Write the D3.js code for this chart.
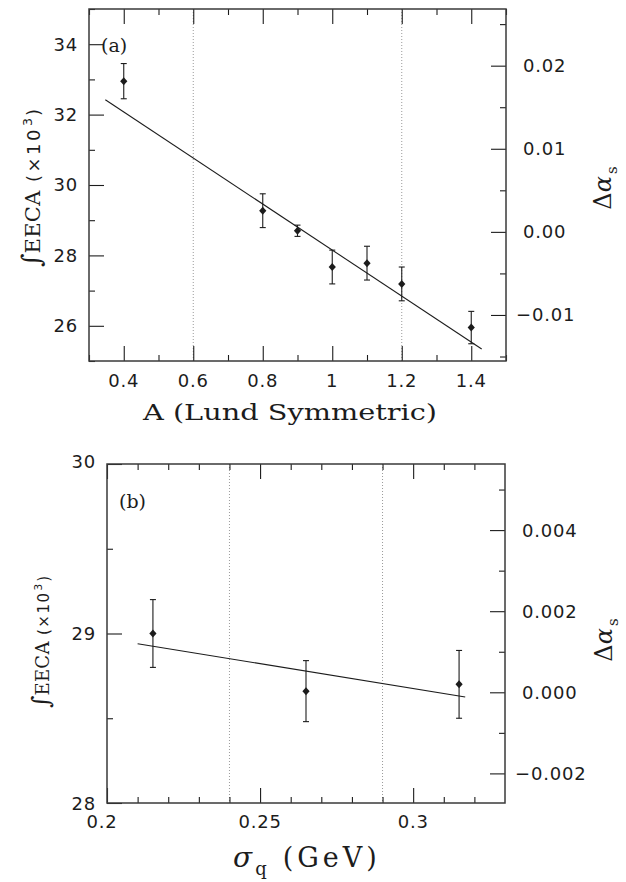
<!DOCTYPE html>
<html>
<head>
<meta charset="utf-8">
<script src="https://cdn.jsdelivr.net/npm/d3@7/dist/d3.min.js"></script>
<style>
body { margin: 0; background: #fff; }
</style>
</head>
<body>
<script>
// ---- panel (a): A (Lund Symmetric)
var aX = [0.4, 0.8, 0.9, 1.0, 1.1, 1.2, 1.4];
var aY = [32.95, 29.27, 28.70, 27.67, 27.78, 27.19, 25.95];
var aErr = [0.50, 0.48, 0.16, 0.48, 0.48, 0.48, 0.46];
var aFitX = [0.347, 1.43];
var aFitY = [32.42, 25.34];
var aXTicks = [0.4, 0.6, 0.8, 1, 1.2, 1.4];
var aXLabels = ["0.4", "0.6", "0.8", "1", "1.2", "1.4"];
var aYTicks = [26, 28, 30, 32, 34];
var aYLabels = ["26", "28", "30", "32", "34"];
var aRTicks = [-0.01, 0, 0.01, 0.02];
var aRLabels = ["\u22120.01", "0.00", "0.01", "0.02"];
var aDotted = [0.6, 1.2];

// ---- panel (b): sigma_q (GeV)
var bX = [0.215, 0.265, 0.315];
var bY = [29.00, 28.66, 28.70];
var bErr = [0.20, 0.18, 0.20];
var bFitX = [0.21, 0.317];
var bFitY = [28.94, 28.625];
var bXTicks = [0.2, 0.25, 0.3];
var bXLabels = ["0.2", "0.25", "0.3"];
var bYTicks = [28, 29, 30];
var bYLabels = ["28", "29", "30"];
var bRTicks = [-0.002, 0, 0.002, 0.004];
var bRLabels = ["\u22120.002", "0.000", "0.002", "0.004"];
var bDotted = [0.24, 0.29];

var width = 626, height = 882;
var ink = "#1c1c1c";
var sans = "'DejaVu Sans', sans-serif";
var serif = "'DejaVu Serif', serif";

var svg = d3.select("body").append("svg")
    .attr("width", width)
    .attr("height", height);

function panel(p) {
  var x = d3.scaleLinear().domain(p.xDomain).range([p.left, p.right]);
  var y = d3.scaleLinear().domain(p.yDomain).range([p.bottom, p.top]);
  var r = d3.scaleLinear().domain(p.rDomain).range([p.bottom, p.top]);
  var g = svg.append("g");

  // dotted guide lines
  g.selectAll(".dot").data(p.dotted).enter().append("line")
      .attr("x1", x).attr("x2", x)
      .attr("y1", p.top).attr("y2", p.bottom)
      .attr("stroke", "#9a9a9a").attr("stroke-width", 1)
      .attr("stroke-dasharray", "1,2");

  // ticks (inward) with d3 axes, labels drawn separately
  function ticks(axis, tr, vals, len) {
    var a = g.append("g").attr("transform", tr)
        .call(axis.tickValues(vals).tickSize(-len).tickFormat(""));
    a.select(".domain").remove();
    a.selectAll("line").attr("stroke", ink).attr("stroke-width", 1.1);
  }
  ticks(d3.axisBottom(x), "translate(0," + p.bottom + ")", p.xTicks, 15);
  ticks(d3.axisBottom(x), "translate(0," + p.bottom + ")", p.xMinor, 6);
  ticks(d3.axisTop(x), "translate(0," + p.top + ")", p.xTicks, 15);
  ticks(d3.axisTop(x), "translate(0," + p.top + ")", p.xMinor, 6);
  ticks(d3.axisLeft(y), "translate(" + p.left + ",0)", p.yTicks, 15);
  ticks(d3.axisLeft(y), "translate(" + p.left + ",0)", p.yMinor, 6);
  ticks(d3.axisRight(r), "translate(" + p.right + ",0)", p.rTicks, 15);
  ticks(d3.axisRight(r), "translate(" + p.right + ",0)", p.rMinor, 6);

  // frame
  g.append("rect")
      .attr("x", p.left).attr("y", p.top)
      .attr("width", p.right - p.left).attr("height", p.bottom - p.top)
      .attr("fill", "none").attr("stroke", "#3a3a3a").attr("stroke-width", 1.5);

  var lab = { "font-family": sans, "font-size": "18px", "fill": ink, "letter-spacing": "0.8px" };
  function style(sel) { for (var k in lab) sel.attr(k, lab[k]); return sel; }

  style(g.selectAll(".xl").data(p.xTicks).enter().append("text"))
      .attr("x", function(d) { return x(d) + (p.xShift ? p.xShift(d) : 0); })
      .attr("y", p.bottom + p.xLabelDy)
      .attr("text-anchor", "middle")
      .text(function(d, i) { return p.xLabels[i]; });

  style(g.selectAll(".yl").data(p.yTicks).enter().append("text"))
      .attr("x", p.left - 11)
      .attr("y", function(d) { return y(d) + (p.yShift ? p.yShift(d) : 0); })
      .attr("dy", "0.36em")
      .attr("text-anchor", "end")
      .text(function(d, i) { return p.yLabels[i]; });

  style(g.selectAll(".rl").data(p.rTicks).enter().append("text"))
      .attr("x", function(d) { return p.right + 17 + (d < 0 ? -7 : 0); })
      .attr("y", r)
      .attr("dy", "0.36em")
      .attr("text-anchor", "start")
      .text(function(d, i) { return p.rLabels[i]; });

  // fit line
  var line = d3.line().x(function(d) { return x(d[0]); }).y(function(d) { return y(d[1]); });
  g.append("path")
      .attr("d", line(d3.zip(p.fitX, p.fitY)))
      .attr("fill", "none").attr("stroke", ink).attr("stroke-width", 1.1);

  // error bars and diamonds
  var pts = g.selectAll(".pt").data(d3.zip(p.px, p.py, p.perr)).enter().append("g");
  pts.append("line")
      .attr("x1", function(d) { return x(d[0]); }).attr("x2", function(d) { return x(d[0]); })
      .attr("y1", function(d) { return y(d[1] - d[2]); }).attr("y2", function(d) { return y(d[1] + d[2]); })
      .attr("stroke", ink).attr("stroke-width", 1.1);
  [-1, 1].forEach(function(s) {
    pts.append("line")
        .attr("x1", function(d) { return x(d[0]) - 3; }).attr("x2", function(d) { return x(d[0]) + 3; })
        .attr("y1", function(d) { return y(d[1] + s * d[2]); }).attr("y2", function(d) { return y(d[1] + s * d[2]); })
        .attr("stroke", ink).attr("stroke-width", 1.1);
  });
  pts.append("path")
      .attr("transform", function(d) { return "translate(" + x(d[0]) + "," + y(d[1]) + ")"; })
      .attr("d", "M0,-4L3.6,0L0,4L-3.6,0Z")
      .attr("fill", ink);

  // panel tag
  g.append("text")
      .attr("x", p.tag[0]).attr("y", p.tag[1])
      .attr("font-family", serif).attr("font-size", "19px").attr("fill", ink)
      .text(p.tagText);

  // left label  ∫EECA (×10³)
  var ll = g.append("text")
      .attr("transform", "translate(" + p.yLab[0] + "," + p.yLab[1] + ") rotate(-90)")
      .attr("text-anchor", "middle").attr("fill", ink);
  ll.append("tspan").attr("font-family", serif).attr("font-size", p.yLabSize[0] + "px").text("\u222B");
  ll.append("tspan").attr("font-family", serif).attr("font-size", p.yLabSize[1] + "px")
      .attr("letter-spacing", "0.3px").text("EECA");
  ll.append("tspan").attr("font-family", sans).attr("font-size", p.yLabSize[2] + "px")
      .attr("letter-spacing", p.yLabSpace + "px").text(" (\u00D710");
  ll.append("tspan").attr("font-family", sans).attr("font-size", (p.yLabSize[2] * 0.7) + "px")
      .attr("dy", -p.yLabSize[2] * 0.45).attr("dx", 1).text("3");
  ll.append("tspan").attr("font-family", sans).attr("font-size", p.yLabSize[2] + "px")
      .attr("dy", p.yLabSize[2] * 0.45).attr("dx", 2).text(")");

  // right label  Δα_s
  var rl = g.append("text")
      .attr("transform", "translate(" + p.rLab[0] + "," + p.rLab[1] + ") rotate(-90)")
      .attr("text-anchor", "middle").attr("fill", ink)
      .attr("font-family", serif);
  rl.append("tspan").attr("font-size", "24px").text("\u0394");
  rl.append("tspan").attr("font-size", "24px").attr("font-style", "italic").text("\u03B1");
  rl.append("tspan").attr("font-size", "15px").attr("dy", 6).attr("dx", 2).text("s");

  return { x: x, y: y };
}

panel({
  left: 89, right: 506, top: 9, bottom: 361,
  xDomain: [0.3, 1.5], yDomain: [25, 35], rDomain: [-0.01554, 0.02682],
  xTicks: aXTicks, xLabels: aXLabels,
  xMinor: d3.range(3, 16, 2).map(function(i) { return i / 10; }),
  yTicks: aYTicks, yLabels: aYLabels, yMinor: [25, 27, 29, 31, 33, 35],
  rTicks: aRTicks, rLabels: aRLabels,
  rMinor: [-0.015, -0.005, 0.005, 0.015, 0.025],
  xLabelDy: 26,
  dotted: aDotted,
  px: aX, py: aY, perr: aErr, fitX: aFitX, fitY: aFitY,
  tag: [101, 52], tagText: "(a)",
  yLab: [40, 188], yLabSize: [26, 21, 18], yLabSpace: 2.5,
  rLab: [611, 188]
});

panel({
  left: 107, right: 505, top: 464, bottom: 803,
  xDomain: [0.2, 0.33], yDomain: [28, 30], rDomain: [-0.00273, 0.00563],
  xTicks: bXTicks, xLabels: bXLabels,
  xMinor: d3.range(21, 33).filter(function(i) { return i % 5 !== 0; }).map(function(i) { return i / 100; }),
  yTicks: bYTicks, yLabels: bYLabels, yMinor: [28.5, 29.5],
  rTicks: bRTicks, rLabels: bRLabels,
  rMinor: [-0.001, 0.001, 0.003, 0.005],
  xLabelDy: 25,
  xShift: function(d) { return d === 0.2 ? -5 : 0; },
  yShift: function(d) { return d === 28 ? 1 : (d === 30 ? -2 : 0); },
  dotted: bDotted,
  px: bX, py: bY, perr: bErr, fitX: bFitX, fitY: bFitY,
  tag: [119, 508], tagText: "(b)",
  yLab: [49, 642], yLabSize: [24, 18, 15], yLabSpace: 1.5,
  rLab: [612, 640]
});

// axis titles
svg.append("text")
    .attr("x", 290).attr("y", 420)
    .attr("text-anchor", "middle")
    .attr("font-family", serif).attr("font-size", "22px").attr("fill", ink)
    .attr("textLength", 294).attr("lengthAdjust", "spacingAndGlyphs")
    .text("A (Lund Symmetric)");

var bt = svg.append("text")
    .attr("x", 233).attr("y", 867)
    .attr("font-family", serif).attr("fill", ink);
bt.append("tspan").attr("font-size", "28px").attr("font-style", "italic").text("\u03C3");
bt.append("tspan").attr("font-size", "18px").attr("dy", 8).attr("dx", 3).text("q");
bt.append("tspan").attr("font-size", "27px").attr("dy", -8).attr("dx", 16)
    .attr("letter-spacing", "4px").text("(GeV)");
</script>
</body>
</html>
